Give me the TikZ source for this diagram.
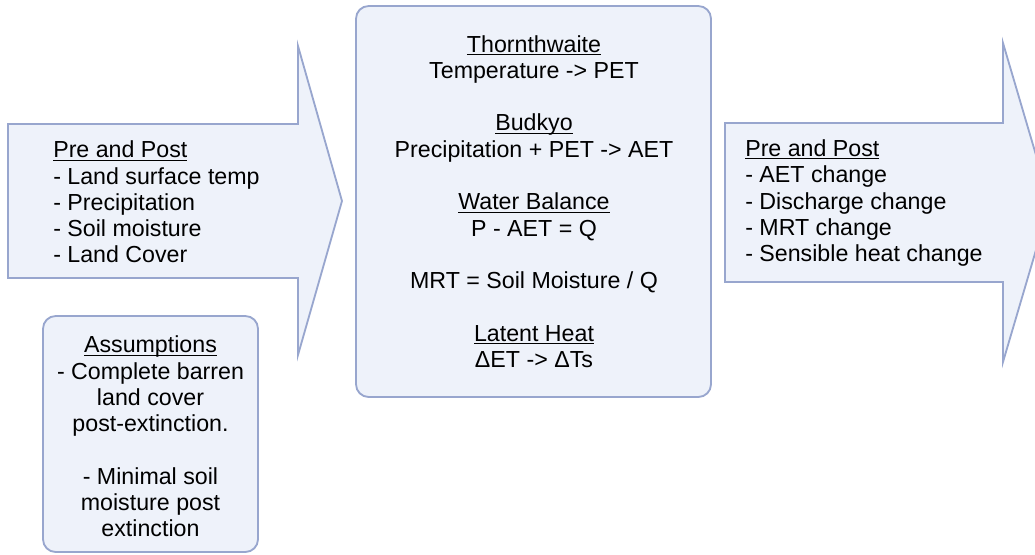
\documentclass[tikz,border=0pt]{standalone}
\usepackage{fontspec}
\setmainfont{Liberation Sans}
\definecolor{boxfill}{RGB}{238,242,250}
\definecolor{boxline}{RGB}{152,166,206}
\newsavebox\ulbox
\newcommand{\ulhead}[1]{\sbox\ulbox{#1}\rlap{\rule[-2.1pt]{\wd\ulbox}{0.7pt}}\usebox\ulbox}
\begin{document}
\begin{tikzpicture}[x=0.025cm,y=-0.025cm,
    panel/.style={draw=boxline,fill=boxfill,line width=1.3pt},
    blocktext/.style={inner sep=0pt,font=\fontsize{16.5}{18.7}\selectfont}]
    \clip (0,0) rectangle (1035,554);
    \draw [panel] (8,124) -- (298,124) -- (298,46) -- (342,201) -- (298,355) -- (298,278) -- (8,278) -- cycle;
    \node [blocktext,align=left,anchor=west] (inputs) at (53,202) {\ulhead{Pre and Post}\\- Land surface temp\\- Precipitation\\- Soil moisture\\- Land Cover};
    \draw [panel,rounded corners=9pt] (356,6) rectangle (711,397);
    \node [blocktext,align=center] (methods) at (534,201.5) {\ulhead{Thornthwaite}\\Temperature -> PET\\[18.7pt]\ulhead{Budkyo}\\Precipitation + PET -> AET\\[18.7pt]\ulhead{Water Balance}\\P - AET = Q\\[18.7pt]MRT = Soil Moisture / Q\\[18.7pt]\ulhead{Latent Heat}\\ΔET -> ΔTs};
    \draw [panel] (725,123) -- (1003,123) -- (1003,43) -- (1050,202.5) -- (1003,362) -- (1003,282) -- (725,282) -- cycle;
    \node [blocktext,align=left,anchor=west] (outputs) at (745,203) {\ulhead{Pre and Post}\\- AET change\\- Discharge change\\- MRT change\\- Sensible heat change};
    \draw [panel,rounded corners=9pt] (43,316) rectangle (258,552);
    \node [blocktext,align=center] (assume) at (150.5,436.5) {\ulhead{Assumptions}\\- Complete barren\\land cover\\post-extinction.\\[18.7pt]- Minimal soil\\moisture post\\extinction};
\end{tikzpicture}
\end{document}
